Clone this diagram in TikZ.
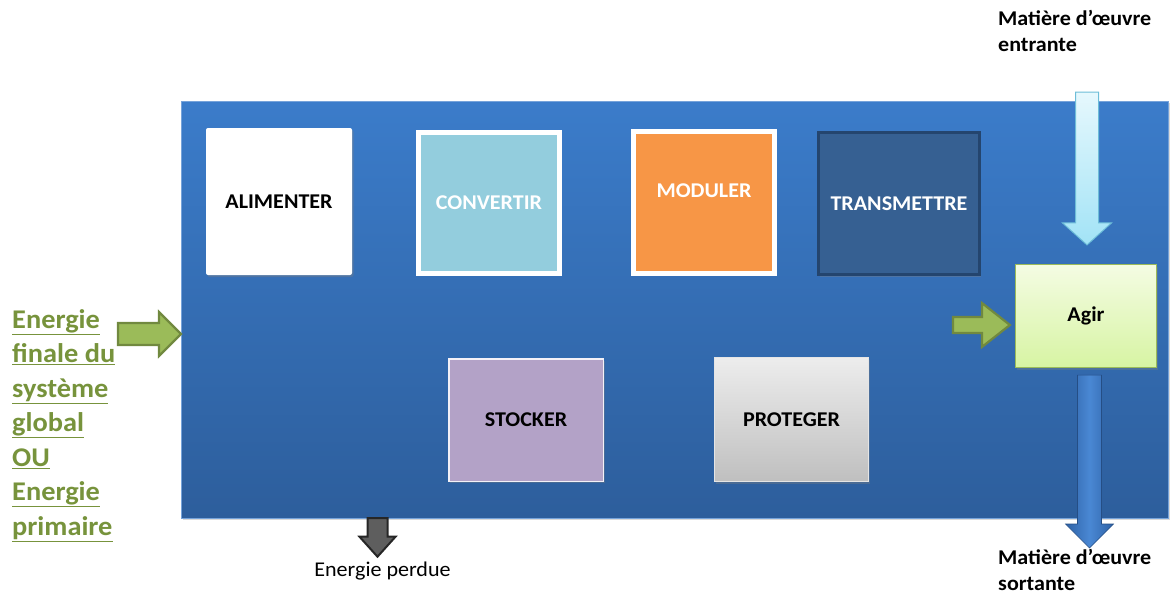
\documentclass[tikz,border=0pt]{standalone}
\usepackage{fontspec}
\setmainfont[FakeStretch=1.05]{Carlito}
\usetikzlibrary{calc,shadows}
\definecolor{mainTop}{HTML}{3B7CCA}
\definecolor{mainBot}{HTML}{2D5E9C}
\definecolor{convFill}{HTML}{93CDDD}
\definecolor{modFill}{HTML}{F79646}
\definecolor{transFill}{HTML}{366092}
\definecolor{transBorder}{HTML}{24456E}
\definecolor{stockFill}{HTML}{B3A2C7}
\definecolor{protTop}{HTML}{EDEDED}
\definecolor{protBot}{HTML}{BFBFBF}
\definecolor{agirTop}{HTML}{F4FCE3}
\definecolor{agirBot}{HTML}{D7F4A3}
\definecolor{agirBorder}{HTML}{9BBB59}
\definecolor{grnFill}{HTML}{9BBB59}
\definecolor{grnBorder}{HTML}{71893F}
\definecolor{grnText}{HTML}{77933C}
\definecolor{ltTop}{HTML}{E6F8FD}
\definecolor{ltBot}{HTML}{A2E3F6}
\definecolor{ltBorder}{HTML}{6DBDD8}
\definecolor{bluArrMid}{HTML}{4A88D4}
\definecolor{bluArrSide}{HTML}{2E62A6}
\definecolor{grayFill}{HTML}{5E5E5E}
\definecolor{grayBorder}{HTML}{262626}
% horizontal block arrow: style, start, tip, head length, body half, head half
\newcommand\hblock[6]{%
  \path[#1] let \p1=#2, \p2=#3 in
    (\x1,\y2+#5) -- (\x2-#4,\y2+#5) -- (\x2-#4,\y2+#6) -- (\x2,\y2)
    -- (\x2-#4,\y2-#6) -- (\x2-#4,\y2-#5) -- (\x1,\y2-#5) -- cycle;}
% vertical (downward) block arrow
\newcommand\vblock[6]{%
  \path[#1] let \p1=#2, \p2=#3 in
    (\x2-#5,\y1) -- (\x2-#5,\y2+#4) -- (\x2-#6,\y2+#4) -- (\x2,\y2)
    -- (\x2+#6,\y2+#4) -- (\x2+#5,\y2+#4) -- (\x2+#5,\y1) -- cycle;}
\begin{document}
\begin{tikzpicture}[x=1pt,y=-1pt,
  box/.style={inner sep=0pt, font=\fontsize{21}{24}\selectfont\bfseries,
    drop shadow={opacity=0.35, shadow xshift=1.5pt, shadow yshift=-2pt}},
  lbl/.style={inner sep=0pt, font=\fontsize{21}{24}\selectfont\bfseries},
  side/.style={inner sep=0pt, align=left, anchor=north west,
    font=\fontsize{21}{26}\selectfont\bfseries},
  grnarrow/.style={fill=grnFill, draw=grnBorder, line width=2.2pt, line join=miter},
]
\useasboundingbox (0,0) rectangle (1170,595);

% main system block
\node[anchor=north west, minimum width=987pt, minimum height=417pt, inner sep=0pt,
  top color=mainTop, bottom color=mainBot, draw=mainTop!70!white, line width=0.6pt,
  drop shadow={opacity=0.3, shadow xshift=2pt, shadow yshift=-2pt}] (main) at (181,101) {};

% function boxes
\node[box, fill=white, rounded corners=2pt, minimum width=146pt, minimum height=147pt]
  (alim) at (279,201.5) {ALIMENTER};
\node[box, fill=convFill, draw=white, line width=5pt, minimum width=141pt, minimum height=141pt,
  text=white] (conv) at (489,203) {CONVERTIR};
\node[box, fill=modFill, draw=white, line width=5pt, minimum width=141pt, minimum height=142pt]
  (mod) at (704,202.5) {};
\node[lbl, text=white] (modtxt) at ($(mod.center)+(0,-12)$) {MODULER};
\node[box, fill=transFill, draw=transBorder, line width=3pt, minimum width=161pt, minimum height=142pt,
  text=white] (trans) at (899,203.5) {TRANSMETTRE};
\node[box, fill=stockFill, draw=white!85!stockFill, line width=1.5pt, minimum width=154.5pt,
  minimum height=122.5pt] (stock) at (526,420) {STOCKER};
\node[box, top color=protTop, bottom color=protBot, draw=white!80!gray, line width=1pt,
  minimum width=154pt, minimum height=124pt] (prot) at (791.5,419.5) {PROTEGER};
\node[box, top color=agirTop, bottom color=agirBot, draw=agirBorder, line width=1.2pt,
  minimum width=141pt, minimum height=103pt] (agir) at (1086,316) {Agir};

% texts outside
\node[inner sep=0pt, align=left, anchor=north west, text=grnText,
  font=\fontsize{27}{34.5}\selectfont\bfseries] (src) at (12,309)
  {\underline{Energie}\\ \underline{finale du}\\ \underline{système}\\ \underline{global}\\
   \underline{OU}\\ \underline{Energie}\\ \underline{primaire}};
\node[side] (inmat) at (998,10) {Matière d’œuvre\\entrante};
\node[side] (outmat) at (998,549) {Matière d’œuvre\\sortante};
\node[inner sep=0pt, font=\fontsize{21}{24}\selectfont] (lost) at (382.5,571) {Energie perdue};

% connectors (block arrows)
\coordinate (lin) at (118,334);
\hblock{grnarrow}{(lin)}{(main.west |- lin)}{22pt}{11pt}{22pt}
\coordinate (ain) at (953,325);
\hblock{grnarrow}{(ain)}{($(agir.west |- ain)+(-5,0)$)}{28pt}{8pt}{22pt}
\coordinate (tin) at (1087,92);
\vblock{top color=ltTop, bottom color=ltBot, draw=ltBorder, line width=1pt}
  {(tin)}{($(agir.north)+(1,-19)$)}{22pt}{11.5pt}{24.5pt}
\coordinate (bin) at ($(agir.south)+(3.5,7)$);
\vblock{left color=bluArrSide, right color=bluArrSide, middle color=bluArrMid,
  draw=bluArrSide!80!black, line width=0.6pt}
  {(bin)}{($(outmat.north west)+(91.5,-1)$)}{24pt}{12pt}{24pt}
\coordinate (lstart) at (377.5,518);
\vblock{fill=grayFill, draw=grayBorder, line width=2pt, line join=miter}
  {(lstart)}{($(lost.north)+(-5,-5)$)}{20pt}{10pt}{18pt}
\end{tikzpicture}
\end{document}
